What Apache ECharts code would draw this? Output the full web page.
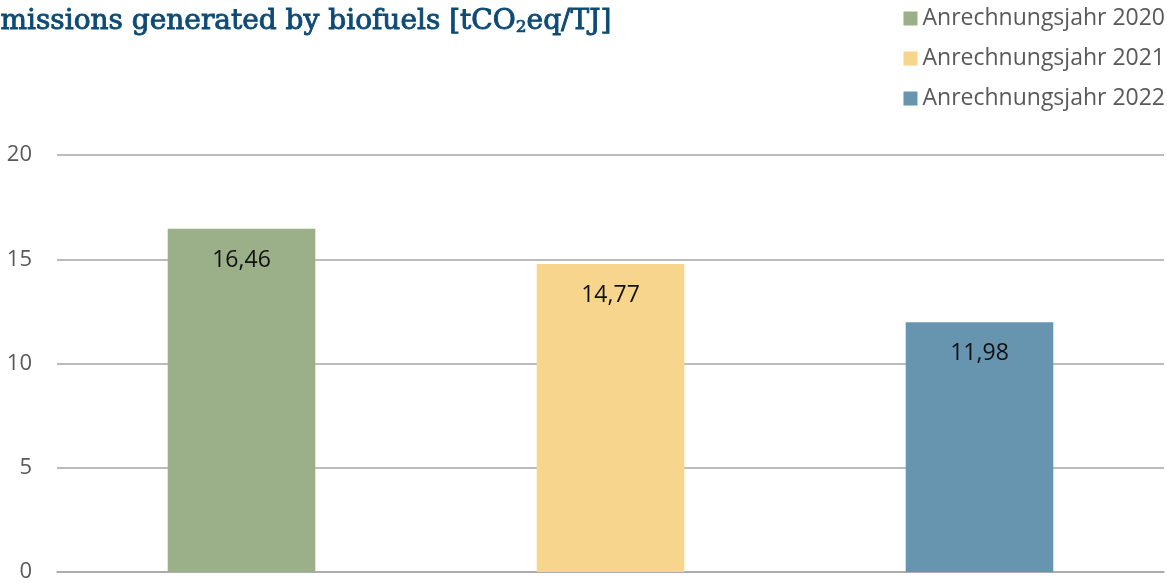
<!DOCTYPE html>
<html>
<head>
<meta charset="utf-8">
<script src="https://cdn.jsdelivr.net/npm/echarts@6/dist/echarts.min.js"></script>
<style>
  html, body { margin: 0; padding: 0; background: #fff; }
  #main { width: 1167px; height: 583px; }
</style>
</head>
<body>
<div id="main"></div>
<script>
var categories = ['2020', '2021', '2022'];
var seriesNames = ['Anrechnungsjahr 2020', 'Anrechnungsjahr 2021', 'Anrechnungsjahr 2022'];
var values = [16.46, 14.77, 11.98];
var colors = ['#9bb088', '#f8d58c', '#6794af'];
var yTicks = [0, 5, 10, 15, 20];

var myChart = echarts.init(document.getElementById('main'));

// one series per year, stacked so each bar sits in its own slot
var series = seriesNames.map(function (name, i) {
  var data = categories.map(function (c, j) { return j === i ? values[i] : '-'; });
  return {
    name: name,
    type: 'bar',
    stack: 'all',
    barWidth: '40%',
    data: data,
    itemStyle: { color: colors[i] },
    label: {
      show: true,
      position: 'insideTop',
      distance: 20,
      color: '#111',
      fontSize: 23,
      fontFamily: 'Open Sans',
      formatter: function (p) { return p.value.toFixed(2).replace('.', ','); }
    }
  };
});

myChart.setOption({
  animation: false,
  title: {
    text: '{t|Emissions generated by biofuels [tCO}{s|2}{t|eq/TJ]}',
    left: -25,
    top: 2,
    textStyle: {
      fontWeight: 'normal',
      rich: {
        t: { fontFamily: 'DejaVu Serif', fontWeight: 'normal', fontSize: 28, color: '#0e4b74',
             textBorderColor: '#0e4b74', textBorderWidth: 0.9 },
        s: { fontFamily: 'DejaVu Serif', fontWeight: 'normal', fontSize: 17, color: '#0e4b74',
             textBorderColor: '#0e4b74', textBorderWidth: 0.7, padding: [12, 0, 0, 0] }
      }
    }
  },
  legend: {
    orient: 'vertical',
    right: -3,
    top: 2,
    itemWidth: 14,
    itemHeight: 14,
    itemGap: 17,
    icon: 'rect',
    textStyle: { fontFamily: 'Open Sans', fontSize: 23, color: '#595959' },
    data: seriesNames
  },
  grid: { left: 57, right: 3, top: 155, bottom: 9, containLabel: false },
  xAxis: {
    type: 'category',
    data: categories,
    axisLine: { show: true, lineStyle: { color: '#a6a6a6', width: 1.5 } },
    axisTick: { show: false },
    axisLabel: { show: false }
  },
  yAxis: {
    type: 'value',
    min: yTicks[0],
    max: yTicks[yTicks.length - 1],
    interval: 5,
    axisLine: { show: false },
    axisTick: { show: false },
    axisLabel: { fontFamily: 'Open Sans', fontSize: 22, color: '#595959', margin: 25 },
    splitLine: { lineStyle: { color: '#a6a6a6', width: 1.5 } }
  },
  series: series
});
</script>
</body>
</html>
